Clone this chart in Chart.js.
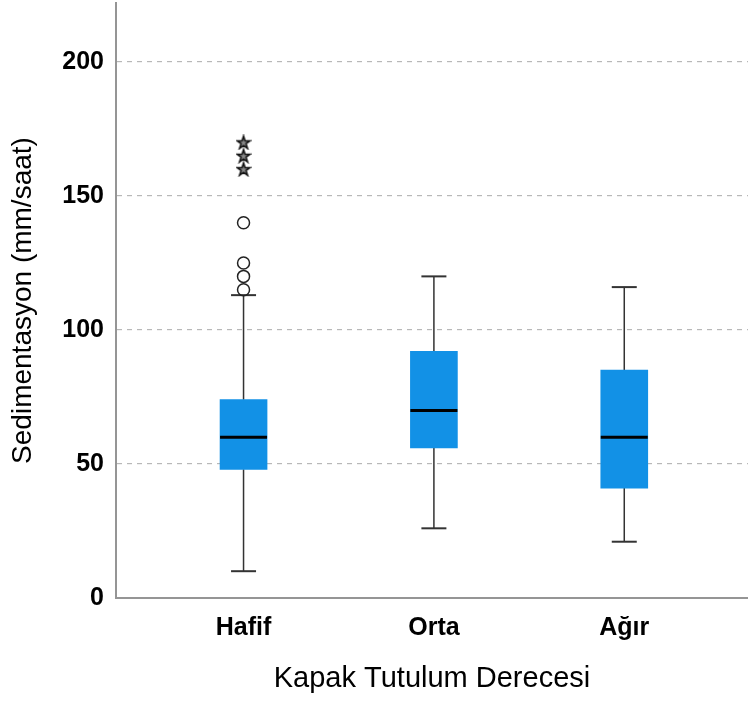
<!DOCTYPE html>
<html>
<head>
<meta charset="utf-8">
<script src="https://cdn.jsdelivr.net/npm/chart.js@4/dist/chart.umd.min.js"></script>
<style>
  html, body { margin: 0; padding: 0; background: #fff; }
  #wrap { width: 748px; height: 702px; }
</style>
</head>
<body>
<div id="wrap"><canvas id="boxChart"></canvas></div>
<script>
// Data
const categories = ['Hafif', 'Orta', 'Ağır'];
const whiskerLow = [10, 26, 21];
const quartile1 = [48, 56, 41];
const medians = [60, 70, 60];
const quartile3 = [74, 92, 85];
const whiskerHigh = [113, 120, 116];
const outliers = [[115, 120, 125, 140], [], []];
const extremes = [[160, 165, 170], [], []];
const yTicks = [0, 50, 100, 150, 200];

const FONT = "'Liberation Sans', Arial, sans-serif";

// small five point star used for extreme values
function makeStar() {
  const c = document.createElement('canvas');
  c.width = 16;
  c.height = 16;
  const g = c.getContext('2d');
  g.beginPath();
  for (let k = 0; k < 10; k++) {
    const r = k % 2 === 0 ? 6.8 : 2.6;
    const a = -Math.PI / 2 + k * Math.PI / 5;
    const px = 8 + r * Math.cos(a);
    const py = 8.6 + r * Math.sin(a);
    if (k === 0) g.moveTo(px, py); else g.lineTo(px, py);
  }
  g.closePath();
  g.fillStyle = '#888';
  g.fill();
  g.lineWidth = 1.6;
  g.strokeStyle = '#111';
  g.stroke();
  return c;
}

// Build datasets
const boxData = categories.map((c, i) => ({ x: i, y: [quartile1[i], quartile3[i]] }));

const whiskerData = [];
categories.forEach((c, i) => {
  whiskerData.push({ x: i, y: whiskerLow[i] }, { x: i, y: quartile1[i] }, { x: i, y: null });
  whiskerData.push({ x: i, y: quartile3[i] }, { x: i, y: whiskerHigh[i] }, { x: i, y: null });
});

const capData = [];
categories.forEach((c, i) => {
  capData.push({ x: i, y: whiskerLow[i] }, { x: i, y: whiskerHigh[i] });
});

const medianData = categories.map((c, i) => ({ x: i, y: medians[i] }));

const outlierData = [];
outliers.forEach((list, i) => list.forEach(v => outlierData.push({ x: i, y: v })));

const extremeData = [];
extremes.forEach((list, i) => list.forEach(v => extremeData.push({ x: i, y: v })));

const chart = new Chart('boxChart', {
  type: 'bar',
  data: {
    datasets: [
      {
        type: 'bar',
        data: boxData,
        backgroundColor: '#1291e6',
        borderWidth: 0,
        barThickness: 47,
        order: 5,
      },
      {
        type: 'line',
        data: whiskerData,
        borderColor: '#333',
        borderWidth: 1.5,
        pointRadius: 0,
        spanGaps: false,
        order: 6,
      },
      {
        type: 'scatter',
        data: capData,
        pointStyle: 'line',
        pointRadius: 12.5,
        borderColor: '#333',
        borderWidth: 2,
        order: 4,
      },
      {
        type: 'scatter',
        data: medianData,
        pointStyle: 'line',
        pointRadius: 23.5,
        borderColor: '#000',
        borderWidth: 3,
        order: 1,
      },
      {
        type: 'scatter',
        data: outlierData,
        pointStyle: 'circle',
        pointRadius: 6,
        borderColor: '#222',
        borderWidth: 1.5,
        backgroundColor: 'rgba(255,255,255,0)',
        order: 2,
      },
      {
        type: 'scatter',
        data: extremeData,
        pointStyle: makeStar(),
        order: 2,
      },
    ]
  },
  options: {
    responsive: true,
    maintainAspectRatio: false,
    animation: false,
    events: [],
    layout: { autoPadding: false, padding: { top: 3, right: 0, bottom: 0, left: 0 } },
    plugins: {
      legend: { display: false },
      tooltip: { enabled: false },
    },
    scales: {
      x: {
        type: 'linear',
        min: -0.67,
        max: 2.65,
        offset: false,
        grid: { display: false, offset: false },
        border: { display: true, color: '#959595', width: 2 },
        afterBuildTicks: scale => {
          scale.ticks = categories.map((c, i) => ({ value: i }));
        },
        afterFit: scale => {
          scale.height = 104;
          scale.paddingLeft = 0;
          scale.paddingRight = 0;
        },
        ticks: {
          autoSkip: false,
          maxRotation: 0,
          padding: 7,
          color: '#000',
          font: { family: FONT, size: 25, weight: 'bold' },
          callback: value => categories[value],
        },
        title: {
          display: true,
          text: 'Kapak Tutulum Derecesi',
          color: '#000',
          font: { family: FONT, size: 29 },
          padding: { top: 0, bottom: 6 },
        },
      },
      y: {
        min: 0,
        max: 222,
        grid: {
          drawTicks: false,
          lineWidth: 1.2,
          color: ctx => (ctx.tick && ctx.tick.value === 0 ? 'rgba(0,0,0,0)' : '#b8b8b8'),
        },
        border: { display: true, color: '#959595', width: 2, dash: [5, 5] },
        afterBuildTicks: scale => {
          scale.ticks = yTicks.map(v => ({ value: v }));
        },
        afterFit: scale => {
          scale.width = 116;
          scale.paddingTop = 0;
          scale.paddingBottom = 0;
        },
        ticks: {
          padding: 12,
          color: '#000',
          font: { family: FONT, size: 25, weight: 'bold' },
        },
        title: {
          display: true,
          text: 'Sedimentasyon (mm/saat)',
          color: '#000',
          font: { family: FONT, size: 28 },
          padding: { top: 6, bottom: 0 },
        },
      },
    },
  },
});
</script>
</body>
</html>
